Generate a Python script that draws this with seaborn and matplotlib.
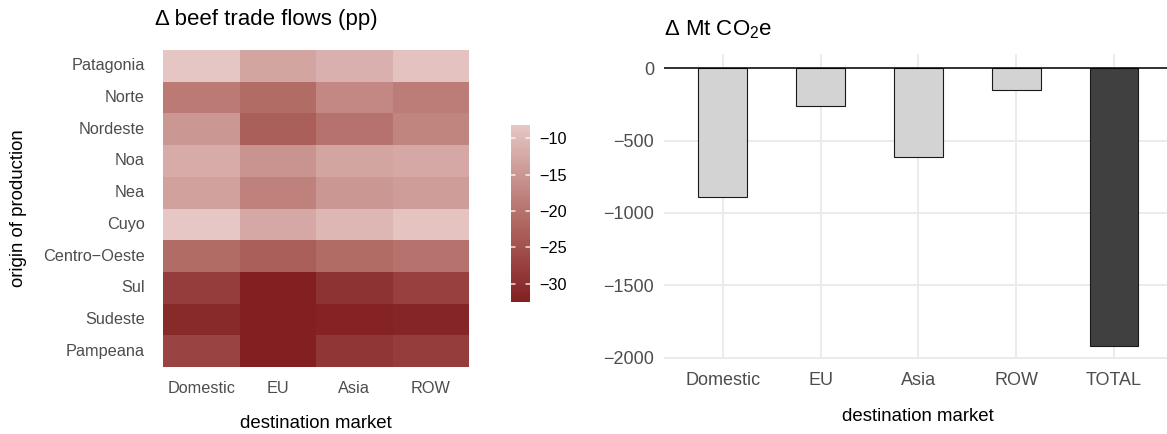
import numpy as np
import pandas as pd
import matplotlib
matplotlib.use("Agg")
import matplotlib.pyplot as plt
import seaborn as sns
from matplotlib.colors import LinearSegmentedColormap

# data
regions = ["Patagonia", "Norte", "Nordeste", "Noa", "Nea", "Cuyo",
           "Centro\u2212Oeste", "Sul", "Sudeste", "Pampeana"]
markets = ["Domestic", "EU", "Asia", "ROW"]

domestic = [-8.3, -19.0, -15.0, -12.0, -13.5, -8.2, -21.0, -28.0, -31.0, -27.0]
eu = [-13.0, -21.0, -23.0, -15.5, -18.0, -12.5, -23.0, -32.5, -32.5, -32.5]
asia = [-11.5, -17.0, -20.0, -13.0, -15.0, -10.5, -21.0, -29.5, -32.0, -29.0]
row = [-9.0, -18.5, -17.5, -12.5, -14.0, -8.8, -20.0, -27.5, -31.5, -28.0]
cbar_ticks = [-10, -15, -20, -25, -30]

bar_labels = ["Domestic", "EU", "Asia", "ROW", "TOTAL"]
co2 = [-888, -263, -613, -152, -1916]

sns.set_theme(style="white")
plt.rcParams["font.family"] = ["Liberation Sans", "DejaVu Sans"]
plt.rcParams["mathtext.fontset"] = "custom"
plt.rcParams["mathtext.rm"] = "Liberation Sans"
plt.rcParams["axes.unicode_minus"] = True
plt.rcParams["text.color"] = "black"
plt.rcParams["axes.labelcolor"] = "black"

W, H = 1167, 434
fig = plt.figure(figsize=(W / 100, H / 100), dpi=100)


def px_axes(left, top, right, bottom):
    return fig.add_axes([left / W, 1 - bottom / H, (right - left) / W, (bottom - top) / H])


# ---- heatmap ----
flows = pd.DataFrame({"Domestic": domestic, "EU": eu, "Asia": asia, "ROW": row},
                     index=regions)[markets]

cmap = LinearSegmentedColormap.from_list("beef", ["#821F21", "#B5706A", "#E6C7C5"])
ax1 = px_axes(163, 50, 469, 367)
cax = px_axes(511, 125, 530, 302)
sns.heatmap(flows, ax=ax1, cmap=cmap, vmin=flows.values.min(), vmax=flows.values.max(),
            cbar_ax=cax, cbar_kws={"ticks": cbar_ticks})

ax1.set_title("\u0394 beef trade flows (pp)", fontsize=16, loc="left", x=-0.025, pad=18)
ax1.set_xlabel("destination market", fontsize=13.4, labelpad=14)
ax1.set_ylabel("origin of production", fontsize=13.4, labelpad=12)
ax1.tick_params(axis="both", length=0, labelsize=11.7, labelcolor="#4D4D4D")
ax1.tick_params(axis="y", pad=13, rotation=0)
ax1.tick_params(axis="x", pad=10, rotation=0)

cbar = ax1.collections[0].colorbar
cbar.outline.set_visible(False)
cax.set_yticklabels(["\u221210", "\u221215", "\u221220", "\u221225", "\u221230"])
cax.tick_params(axis="y", length=0, labelsize=11.7, labelcolor="black", pad=7)
# ggplot-style white tick dashes inside the colour bar
for v in cbar_ticks:
    cax.axhline(v, xmin=0, xmax=0.2, color="white", lw=1.1, alpha=0.85, zorder=5)
    cax.axhline(v, xmin=0.8, xmax=1, color="white", lw=1.1, alpha=0.85, zorder=5)

# ---- bar chart ----
ax2 = px_axes(664, 54.4, 1172.7, 359.4)
bars = pd.DataFrame({"market": bar_labels, "co2": co2})
pal = {m: "#D3D3D3" for m in bar_labels}
pal["TOTAL"] = "#404040"
sns.barplot(data=bars, x="market", y="co2", hue="market", palette=pal, legend=False,
            width=0.5, edgecolor="#1A1A1A", linewidth=0.8, saturation=1, ax=ax2, zorder=3)
ax2.axhline(0, color="black", lw=1.1, zorder=4)
ax2.set_xlim(-0.6, 4.6)
ax2.set_ylim(-2011.8, 95.8)
ax2.set_yticks([0, -500, -1000, -1500, -2000])
ax2.set_yticklabels(["0", "\u2212500", "\u22121000", "\u22121500", "\u22122000"])
ax2.grid(True, color="#EBEBEB", lw=1.4, zorder=0)
ax2.set_axisbelow(True)
for s in ax2.spines.values():
    s.set_visible(False)
ax2.tick_params(axis="both", length=0, labelsize=13, labelcolor="#4D4D4D")
ax2.tick_params(axis="y", pad=7)
ax2.tick_params(axis="x", pad=9)
ax2.set_xlabel("destination market", fontsize=13.4, labelpad=14)
ax2.set_ylabel("")
ax2.set_title("\u0394 Mt CO$_2$e", fontsize=16, loc="left", x=0.0, pad=14)

fig.savefig("out.png", dpi=100, facecolor="white")
